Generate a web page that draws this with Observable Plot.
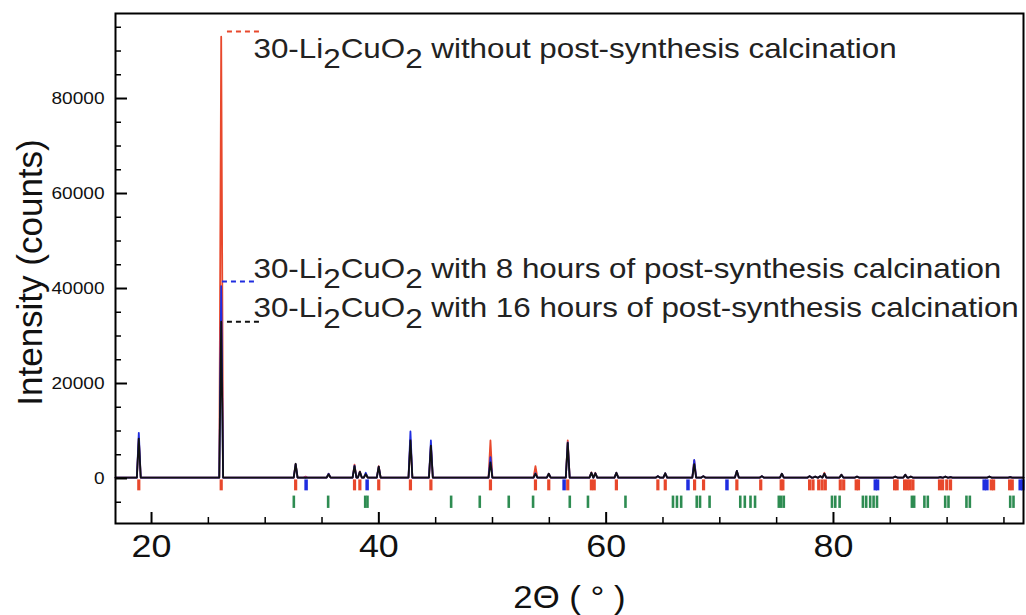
<!DOCTYPE html>
<html><head><meta charset="utf-8">
<script src="https://cdn.jsdelivr.net/npm/d3@7"></script>
<script src="https://cdn.jsdelivr.net/npm/@observablehq/plot@0.6"></script>
<style>body{margin:0;background:#fff}</style>
</head><body><div id="chart"></div>
<script>
// ---- data ----
const peakPos = [18.88, 26.13, 32.68, 33.55, 35.58, 37.86, 38.33, 38.85, 39.99, 42.78, 44.58, 48.8, 49.82, 53.78, 54.95, 56.62, 58.7, 59.05, 60.9, 64.55, 65.2, 67.75, 68.55, 71.5, 73.7, 75.46, 77.9, 78.4, 78.84, 79.2, 80.7, 82.07, 85.44, 86.32, 86.8, 89.4, 89.85, 90.3, 93.72, 95.55];
const black16h = [8400, 33000, 3100, 150, 900, 2600, 1400, 900, 2500, 8000, 6900, 200, 3400, 1000, 1000, 7500, 1200, 1100, 1200, 500, 1100, 3000, 500, 1600, 500, 1000, 500, 400, 500, 1000, 800, 400, 400, 800, 400, 300, 400, 300, 400, 300];
const blue8h = [9600, 40500, 3000, 250, 1000, 2700, 1400, 1200, 2500, 9900, 8000, 200, 4500, 1100, 1000, 7600, 1200, 1100, 1200, 500, 1100, 3900, 500, 1600, 500, 1000, 500, 400, 500, 1000, 800, 400, 400, 800, 400, 300, 400, 300, 400, 300];
const red0h = [8500, 93000, 3000, 400, 1000, 2900, 1500, 1000, 2600, 8200, 7000, 200, 8000, 2600, 1000, 8000, 1300, 1200, 1200, 500, 1100, 3800, 500, 1600, 500, 1000, 500, 400, 500, 1200, 800, 400, 400, 800, 400, 300, 400, 300, 400, 300];
const baseline = 200;

const redTicks = [18.88, 26.13, 32.68, 37.86, 38.33, 39.99, 42.78, 44.58, 49.82, 53.78, 54.95, 56.62, 58.7, 58.95, 60.9, 64.55, 65.2, 67.78, 68.57, 71.5, 73.6, 75.4, 75.55, 77.9, 78.2, 78.7, 79.0, 79.28, 80.6, 80.9, 82.0, 82.2, 85.38, 85.6, 86.26, 86.5, 86.74, 86.99, 89.33, 89.6, 89.97, 90.3, 93.88, 94.09, 95.5, 95.73];
const blueTicks = [33.6, 38.97, 56.3, 67.2, 70.63, 83.68, 83.88, 93.26, 93.5, 96.43, 96.66];
const greenTicks = [32.52, 35.54, 38.8, 39.0, 46.36, 48.88, 51.43, 53.57, 56.8, 58.4, 61.7, 65.88, 66.23, 66.6, 67.97, 68.26, 69.1, 71.8, 72.2, 72.7, 73.1, 75.19, 75.4, 75.63, 79.87, 80.16, 80.54, 82.59, 82.88, 83.23, 83.53, 83.83, 86.9, 87.1, 88.0, 88.3, 89.83, 90.12, 91.7, 92.0, 95.55, 95.84];
const refTickRange = [-300, -2600];
const greenTickRange = [-3700, -6300];

const labels = [
  {text: "30-Li2CuO2 without post-synthesis calcination", x: 28.97, y: 88600, lx1: 26.68, lx2: 29.76, ly: 94100, color: "red"},
  {text: "30-Li2CuO2 with 8 hours of post-synthesis calcination", x: 28.97, y: 42300, lx1: 26.24, lx2: 29.41, ly: 41500, color: "blue"},
  {text: "30-Li2CuO2 with 16 hours of post-synthesis calcination", x: 28.97, y: 33900, lx1: 26.68, lx2: 29.76, ly: 33000, color: "black"}
];

const xMajor = [20, 40, 60, 80];
const xMinor = [25, 30, 35, 45, 50, 55, 65, 70, 75, 85, 90, 95];
const yMajor = [0, 20000, 40000, 60000, 80000];
const yMinor = [-5000, 5000, 10000, 15000, 25000, 30000, 35000, 45000, 50000, 55000, 65000, 70000, 75000, 85000, 90000, 95000];
const xDomain = [16.83, 96.72];
const yDomain = [-9474, 97900];

// ---- styles ----
const COLORS = {red: "#e8482c", blue: "#1f2de0", black: "#111111", green: "#2e8c52"};
const FONT = "'Liberation Sans', Arial, Helvetica, sans-serif";
const W = 1026, H = 615, ML = 115, MR = 3, MT = 13, MB = 92;
const plotW = W - ML - MR, plotH = H - MT - MB;
const HW = 0.17; // peak half-width for drawing

function profile(heights) {
  const pts = [{x: xDomain[0], y: baseline}];
  peakPos.forEach((p, i) => {
    pts.push({x: p - HW, y: baseline}, {x: p, y: heights[i]}, {x: p + HW, y: baseline});
  });
  pts.push({x: xDomain[1], y: baseline});
  return pts;
}

const svg = Plot.plot({
  width: W, height: H,
  marginLeft: ML, marginRight: MR, marginTop: MT, marginBottom: MB,
  x: {domain: xDomain, axis: null},
  y: {domain: yDomain, axis: null},
  style: {background: "#fff", fontFamily: FONT, overflow: "visible"},
  marks: [
    Plot.ruleX(redTicks, {x: d => d, y1: refTickRange[0], y2: refTickRange[1], stroke: COLORS.red, strokeWidth: 3.2}),
    Plot.ruleX(blueTicks, {x: d => d, y1: refTickRange[0], y2: refTickRange[1], stroke: COLORS.blue, strokeWidth: 3.5}),
    Plot.ruleX(greenTicks, {x: d => d, y1: greenTickRange[0], y2: greenTickRange[1], stroke: COLORS.green, strokeWidth: 2.6}),
    Plot.line(profile(red0h), {x: "x", y: "y", stroke: COLORS.red, strokeWidth: 1.8, strokeLinejoin: "round"}),
    Plot.line(profile(blue8h), {x: "x", y: "y", stroke: COLORS.blue, strokeWidth: 1.8, strokeLinejoin: "round"}),
    Plot.line(profile(black16h), {x: "x", y: "y", stroke: COLORS.black, strokeWidth: 1.8, strokeLinejoin: "round"}),
    Plot.ruleY(labels, {y: "ly", x1: "lx1", x2: "lx2", stroke: d => COLORS[d.color], strokeWidth: 2, strokeDasharray: "5,4"}),
    Plot.text(labels, {x: "x", y: "y", text: "text", textAnchor: "start", lineAnchor: "bottom", fontSize: 28, fill: "#222"}),
    // axis ticks (inward)
    Plot.tickY(yMajor, {y: d => d, insetRight: plotW - 12, stroke: "#000", strokeWidth: 2}),
    Plot.tickY(yMinor, {y: d => d, insetRight: plotW - 6, stroke: "#000", strokeWidth: 1.5}),
    Plot.tickX(xMajor, {x: d => d, insetTop: plotH - 11, stroke: "#000", strokeWidth: 2}),
    Plot.tickX(xMinor, {x: d => d, insetTop: plotH - 6, stroke: "#000", strokeWidth: 1.5}),
    Plot.text(yMajor, {y: d => d, frameAnchor: "left", dx: -11, textAnchor: "end", text: d => String(d), fontSize: 17, fill: "#111"}),
    Plot.text(xMajor, {x: d => d, frameAnchor: "bottom", dy: 23, lineAnchor: "middle", text: d => String(d), fontSize: 32, fill: "#111"}),
    Plot.text(["2Θ ( ° )"], {frameAnchor: "bottom", dy: 75, lineAnchor: "middle", text: d => d, fontSize: 31, fill: "#111"}),
    Plot.text(["Intensity (counts)"], {frameAnchor: "left", dx: -85, dy: 4, rotate: -90, textAnchor: "middle", lineAnchor: "middle", text: d => d, fontSize: 35, fill: "#111"}),
    Plot.frame({stroke: "#000", strokeWidth: 2})
  ]
});
document.getElementById("chart").append(svg);

// subscripts and horizontal stretch of the texts
const NS = "http://www.w3.org/2000/svg";
svg.querySelectorAll("text").forEach(t => {
  const s = t.textContent;
  const m = s.match(/^(.*?Li)2(CuO)2(.*)$/);
  if (m) {
    t.textContent = "";
    const add = (str, dy) => {
      const ts = document.createElementNS(NS, "tspan");
      ts.textContent = str;
      if (dy) ts.setAttribute("dy", dy);
      t.appendChild(ts);
    };
    add(m[1]); add("2", "0.36em"); add(m[2], "-0.36em"); add("2", "0.36em"); add(m[3], "-0.36em");
  }
  if (!s.startsWith("Intensity")) {
    const len = t.getComputedTextLength();
    t.setAttribute("textLength", (len * 1.12).toFixed(1));
    t.setAttribute("lengthAdjust", "spacingAndGlyphs");
  }
});
</script>
</body></html>
